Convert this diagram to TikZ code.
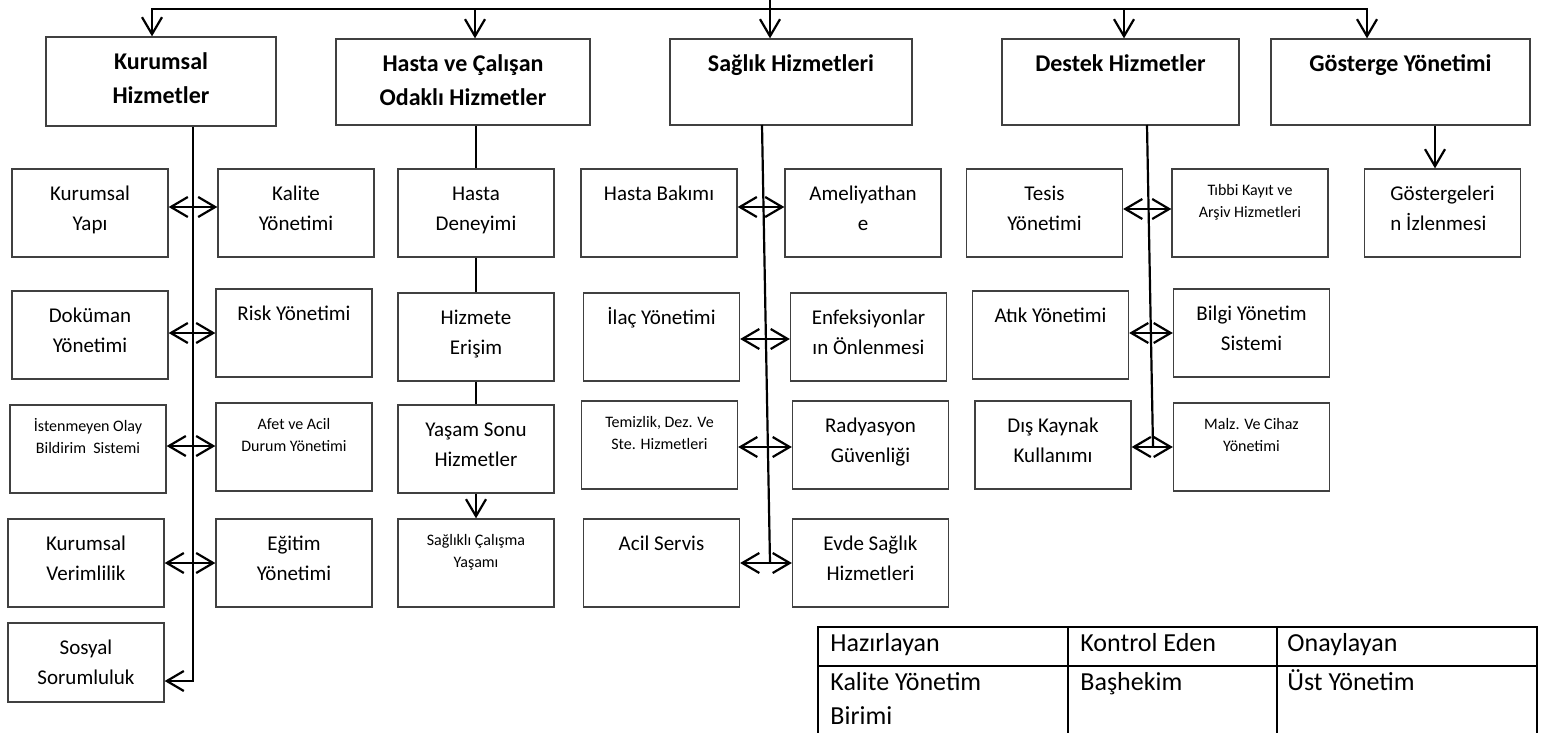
\documentclass[tikz,border=0pt]{standalone}
\usepackage{fontspec}
\setmainfont{Carlito}
\usetikzlibrary{arrows.meta, positioning}

\tikzset{
  kutu/.style={draw=black!75, line width=0.65pt, minimum width=78pt, minimum height=44pt, inner sep=0pt},
  yazitaban/.style={anchor=north, align=center, inner sep=0pt},
  yazi/.style={yazitaban, yshift=-5.3pt, font=\fontsize{10.5}{15}\selectfont},
  kucuk/.style={yazitaban, yshift=-6pt, font=\fontsize{8}{10.8}\selectfont},
  baslik/.style={yazitaban, yshift=-4.7pt, font=\bfseries\fontsize{12}{17}\selectfont},
  hat/.style={line width=1.1pt},
  ok/.style={hat, -{Straight Barb[length=8.5pt, width=10pt]}},
  cift/.style={hat, {Straight Barb[length=8.5pt, width=10pt]}-{Straight Barb[length=8.5pt, width=10pt]}},
  tablo/.style={line width=1pt},
  tabyazi/.style={anchor=north west, align=left, inner sep=0pt, font=\fontsize{13}{17}\selectfont},
}

\begin{document}
\begin{tikzpicture}[x=0.5pt, y=-0.5pt]
    \useasboundingbox (0,0) rectangle (1541,733);

    % ana birimler
    \node[kutu, minimum width=115pt, minimum height=44.5pt, label={[baslik]north:{\strut Kurumsal\\Hizmetler}}] (kurumsal) at (161,81.5) {};
    \node[kutu, minimum width=127pt, minimum height=43pt, label={[baslik]north:{\strut Hasta ve Çalışan\\Odaklı Hizmetler}}] (hastacalisan) at (463,82) {};
    \node[kutu, minimum width=121pt, minimum height=43pt, label={[baslik]north:{\strut Sağlık Hizmetleri}}] (saglik) at (791,82) {};
    \node[kutu, minimum width=118.5pt, minimum height=43pt, label={[baslik]north:{\strut Destek Hizmetler}}] (destek) at (1120.5,82) {};
    \node[kutu, minimum width=129.5pt, minimum height=43pt, label={[baslik]north:{\strut Gösterge Yönetimi}}] (gosterge) at (1400.5,82) {};

    % üst bağlantı
    \coordinate (ust) at (770,0);
    \foreach \x [count=\i] in {152,475,770,1124,1367} {
        \coordinate (t\i) at (\x,9);
    }
    \draw[hat, line cap=rect] (t1) -- (t5);
    \draw[ok] (ust) -- (ust |- saglik.north);
    \foreach \i/\b in {1/kurumsal, 2/hastacalisan, 4/destek, 5/gosterge} {
        \draw[ok] (t\i) -- (t\i |- \b.north);
    }

    % kurumsal hizmetler
    \node[kutu, label={[yazi]north:{\strut Kurumsal\\Yapı}}] (kyapi) at (90,213) {};
    \node[kutu, label={[yazi]north:{\strut Kalite\\Yönetimi}}] (kalite) at (296,213) {};
    \node[kutu, label={[yazi]north:{\strut Doküman\\Yönetimi}}] (dokuman) at (90,335) {};
    \node[kutu, label={[yazi]north:{\strut Risk Yönetimi}}] (risk) at (294,333) {};
    \node[kutu, label={[kucuk]north:{\strut İstenmeyen Olay\\Bildirim~ Sistemi}}] (istenmeyen) at (88,449) {};
    \node[kutu, label={[kucuk]north:{\strut Afet ve Acil\\Durum Yönetimi}}] (afet) at (294,447) {};
    \node[kutu, label={[yazi]north:{\strut Kurumsal\\Verimlilik}}] (verimlilik) at (86,563) {};
    \node[kutu, label={[yazi]north:{\strut Eğitim\\Yönetimi}}] (egitim) at (294,563) {};
    \node[kutu, minimum height=39.5pt, label={[yazi]north:{\strut Sosyal\\Sorumluluk}}] (sosyal) at (86,662.5) {};

    % hasta ve çalışan odaklı hizmetler
    \node[kutu, label={[yazi]north:{\strut Hasta\\Deneyimi}}] (deneyim) at (476,213) {};
    \node[kutu, label={[yazi]north:{\strut Hizmete\\Erişim}}] (erisim) at (476,337) {};
    \node[kutu, label={[yazi]north:{\strut Yaşam Sonu\\Hizmetler}}] (yasam) at (476,449) {};
    \node[kutu, label={[kucuk]north:{\strut Sağlıklı Çalışma\\Yaşamı}}] (saglikli) at (476,563) {};

    % sağlık hizmetleri
    \node[kutu, label={[yazi]north:{\strut Hasta Bakımı}}] (bakim) at (659,213) {};
    \node[kutu, label={[yazi]north:{\strut Ameliyathan\\e}}] (ameliyat) at (863,213) {};
    \node[kutu, label={[yazi]north:{\strut İlaç Yönetimi}}] (ilac) at (661.5,337) {};
    \node[kutu, label={[yazi]north:{\strut Enfeksiyonlar\\ın Önlenmesi}}] (enfeksiyon) at (868.5,337) {};
    \node[kutu, label={[kucuk]north:{\strut Temizlik, Dez. Ve\\Ste. Hizmetleri}}] (temizlik) at (659.5,445) {};
    \node[kutu, label={[yazi]north:{\strut Radyasyon\\Güvenliği}}] (radyasyon) at (870.5,445) {};
    \node[kutu, label={[yazi]north:{\strut Acil Servis}}] (acil) at (661.5,563) {};
    \node[kutu, label={[yazi]north:{\strut Evde Sağlık\\Hizmetleri}}] (evde) at (870.5,563) {};

    % destek hizmetler
    \node[kutu, label={[yazi]north:{\strut Tesis\\Yönetimi}}] (tesis) at (1044.5,213) {};
    \node[kutu, label={[kucuk]north:{\strut Tıbbi Kayıt ve\\Arşiv Hizmetleri}}] (tibbi) at (1250,213) {};
    \node[kutu, label={[yazi]north:{\strut Atık Yönetimi}}] (atik) at (1050.5,335) {};
    \node[kutu, label={[yazi]north:{\strut Bilgi Yönetim\\Sistemi}}] (bilgi) at (1251.5,333) {};
    \node[kutu, label={[yazi]north:{\strut Dış Kaynak\\Kullanımı}}] (dis) at (1053,445) {};
    \node[kutu, label={[kucuk]north:{\strut Malz. Ve Cihaz\\Yönetimi}}] (malz) at (1251.5,447) {};

    % gösterge yönetimi
    \node[kutu, label={[yazi, align=left]north:{\strut Göstergeleri\\n İzlenmesi}}] (gostergeler) at (1442.5,213) {};

    % dikey hatlar
    \coordinate (kalt) at (193,681);
    \draw[ok] (kalt |- kurumsal.south) -- (kalt) -- (sosyal.east |- kalt);

    \draw[hat] (deneyim.north |- hastacalisan.south) -- (deneyim.north);
    \draw[hat] (deneyim.south) -- (erisim.north);
    \draw[hat] (erisim.south) -- (yasam.north);
    \draw[ok] (yasam.south) -- (saglikli.north);

    \coordinate (sbas) at (762,125);
    \coordinate (sson) at (770,563);
    \draw[hat] (sbas) -- (sson);

    \coordinate (dbas) at (1147,125);
    \coordinate (dson) at (1153,447);
    \draw[hat] (dbas) -- (dson);

    \coordinate (gok) at (1435,0);
    \draw[ok] (gok |- gosterge.south) -- (gok |- gostergeler.north);

    % çift yönlü oklar
    \foreach \a/\b/\s in {kyapi/kalite/3, dokuman/risk/1, istenmeyen/afet/1.5, verimlilik/egitim/0,
                          bakim/ameliyat/3, ilac/enfeksiyon/-1, temizlik/radyasyon/-1, acil/evde/0,
                          tesis/tibbi/2, atik/bilgi/1, dis/malz/-1} {
        \draw[cift] ([yshift=\s pt]\a.east) -- ([yshift=\s pt]\a.east -| \b.west);
    }

    % onay tablosu
    \draw[tablo] (818,733) -- (818,627) -- (1537,627) -- (1537,733);
    \draw[tablo] (818,666) -- (1537,666);
    \draw[tablo] (1068,627) -- (1068,733);
    \draw[tablo] (1277,627) -- (1277,733);
    \node[tabyazi] (hazirlayan) at (830,627) {\strut Hazırlayan};
    \node[tabyazi] (kontrol) at (1080,627) {\strut Kontrol Eden};
    \node[tabyazi] (onaylayan) at (1287,627) {\strut Onaylayan};
    \node[tabyazi] (kybirim) at (830,666) {\strut Kalite Yönetim\\Birimi};
    \node[tabyazi] (bashekim) at (1080,666) {\strut Başhekim};
    \node[tabyazi] (ustyonetim) at (1287,666) {\strut Üst Yönetim};
\end{tikzpicture}
\end{document}
